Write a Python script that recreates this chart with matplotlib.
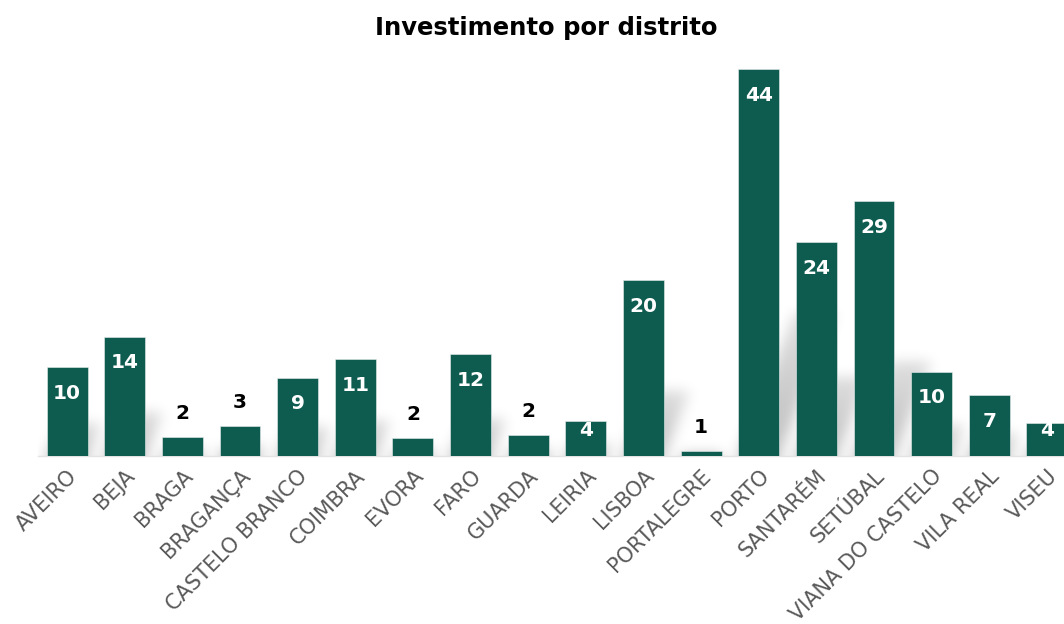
import numpy as np
import matplotlib
matplotlib.use("Agg")
import matplotlib.pyplot as plt

# ===================== dados =====================
distritos = ["AVEIRO", "BEJA", "BRAGA", "BRAGANÇA", "CASTELO BRANCO", "COIMBRA",
             "EVORA", "FARO", "GUARDA", "LEIRIA", "LISBOA", "PORTALEGRE", "PORTO",
             "SANTARÉM", "SETÚBAL", "VIANA DO CASTELO", "VILA REAL", "VISEU"]
investimento = [10.1, 13.6, 2.2, 3.4, 8.9, 11.0, 2.1, 11.6, 2.4, 4.0, 20.0, 0.6, 44.0,
                24.3, 29.0, 9.6, 6.9, 3.8]

BAR_COLOR = "#0e5b50"
LABEL_GREY = "#595959"

plt.rcParams["font.family"] = ["DejaVu Sans"]

fig = plt.figure(figsize=(10.64, 6.24), dpi=100)
ax = fig.add_axes([0.036, 0.269, 0.975, 0.620])

x = np.arange(len(distritos))
vals = np.array(investimento, dtype=float)
width = 0.71

# ===================== sombra (imagem desfocada) =====================
nx, ny = 1040, 420
xg = np.linspace(-0.5, len(distritos) - 0.5, nx)
yg = np.linspace(0, 44, ny)
XX, YY = np.meshgrid(xg, yg)
shade = np.zeros_like(XX)
s, k = 0.37, 0.06
for xi, v in zip(x, vals):
    hs = s * v
    off = k * YY
    inside = (YY <= hs) & (XX >= xi - width / 2 + off) & (XX <= xi + width / 2 + off)
    val = np.where(inside, 1 - 0.5 * YY / max(hs, 1e-6), 0)
    shade = np.maximum(shade, val)


def gauss_blur(a, sigma):
    r = int(3 * sigma)
    t = np.arange(-r, r + 1)
    g = np.exp(-t ** 2 / (2 * sigma ** 2))
    g /= g.sum()
    a = np.apply_along_axis(lambda m: np.convolve(np.pad(m, r, mode="edge"), g, mode="valid"), 0, a)
    a = np.apply_along_axis(lambda m: np.convolve(np.pad(m, r, mode="edge"), g, mode="valid"), 1, a)
    return a


shade = gauss_blur(shade, 7)
rgba = np.zeros((ny, nx, 4))
rgba[..., 3] = np.clip(shade * 0.26, 0, 1)
ax.imshow(rgba, extent=(-0.5, len(distritos) - 0.5, 0, 44), origin="lower",
          aspect="auto", zorder=1, interpolation="bilinear")

# ===================== barras =====================
ax.bar(x, vals, width=width, color=BAR_COLOR, edgecolor="#e8efed", linewidth=0.4, zorder=3)

# distância do rótulo ao topo da barra (unidades de dados)
inset = 2.95
for xi, v in zip(x, vals):
    if v >= 3.5:
        ax.text(xi, max(v - inset, inset), f"{v:.0f}", ha="center", va="center",
                color="white", fontsize=14.5, fontweight="bold", zorder=4)
    else:
        ax.annotate(f"{v:.0f}", (xi, v), xytext=(0, 17), textcoords="offset points",
                    ha="center", va="center", color="black", fontsize=14.5,
                    fontweight="bold", zorder=4)

ax.set_xlim(-0.5, len(distritos) - 0.5)
ax.set_ylim(0, 44)
ax.set_xticks(x)
ax.set_xticklabels(distritos, rotation=45, ha="right", rotation_mode="anchor",
                   color=LABEL_GREY, fontsize=15)
ax.tick_params(axis="x", length=0, pad=7)
ax.set_yticks([])
for sp in ["top", "right", "left"]:
    ax.spines[sp].set_visible(False)
ax.spines["bottom"].set_color("#e3e3e3")
ax.spines["bottom"].set_linewidth(1)
ax.set_facecolor("none")

fig.text(0.513, 0.955, "Investimento por distrito", ha="center", va="center",
         fontsize=17.5, fontweight="bold")

fig.savefig("out.png", dpi=100)
